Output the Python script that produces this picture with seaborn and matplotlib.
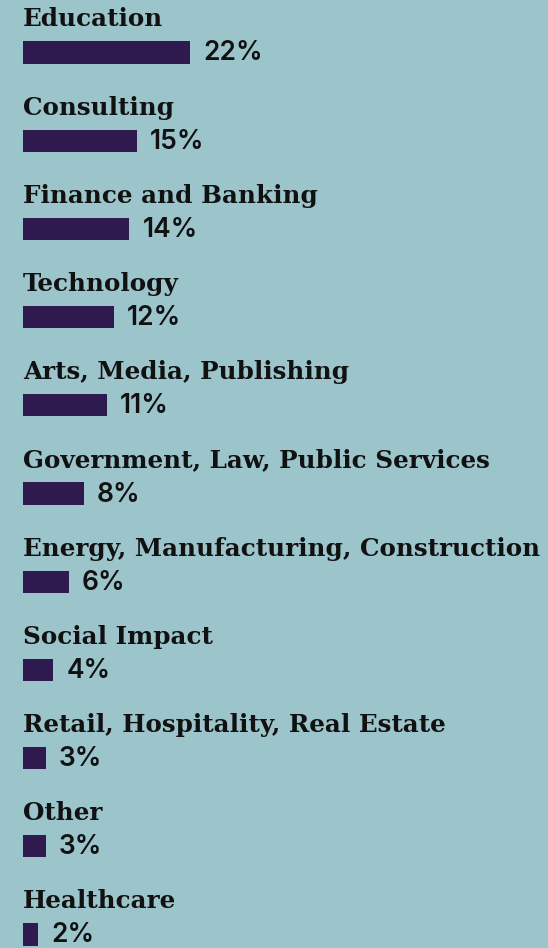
import pandas as pd
import matplotlib.pyplot as plt
import seaborn as sns

sectors = [
    'Education', 'Consulting', 'Finance and Banking', 'Technology',
    'Arts, Media, Publishing', 'Government, Law, Public Services',
    'Energy, Manufacturing, Construction', 'Social Impact',
    'Retail, Hospitality, Real Estate', 'Other', 'Healthcare',
]
shares = [22, 15, 14, 12, 11, 8, 6, 4, 3, 3, 2]

bg = '#9cc4cb'
bar_color = '#2e1a4f'

df = pd.DataFrame({'sector': sectors, 'share': shares})

fig = plt.figure(figsize=(5.48, 9.48), dpi=100, facecolor=bg)
ax = fig.add_axes([23 / 548, 0, 1 - 23 / 548, 1])
ax.set_facecolor(bg)

sns.barplot(data=df, x='share', y='sector', orient='h', color=bar_color,
            width=0.25, saturation=1, ax=ax)

px_per_pct = 7.6
ax.set_xlim(0, (548 - 23) / px_per_pct)
row_px = 88.2
ax.set_ylim((948 - 52.5) / row_px, -52.5 / row_px)
ax.axis('off')

for i, (name, val) in enumerate(zip(sectors, shares)):
    ax.annotate(name, xy=(0, i), xytext=(0, 33), textcoords='offset pixels',
                ha='left', va='center', fontsize=17.7, fontweight='bold',
                family='DejaVu Serif', color='#111111', annotation_clip=False)
    ax.annotate(f'{val}%', xy=(val, i), xytext=(13, -1), textcoords='offset pixels',
                ha='left', va='center', fontsize=19, fontweight='semibold',
                family='Inter', color='#111111', annotation_clip=False)

fig.savefig('out.png', dpi=100, facecolor=bg)
